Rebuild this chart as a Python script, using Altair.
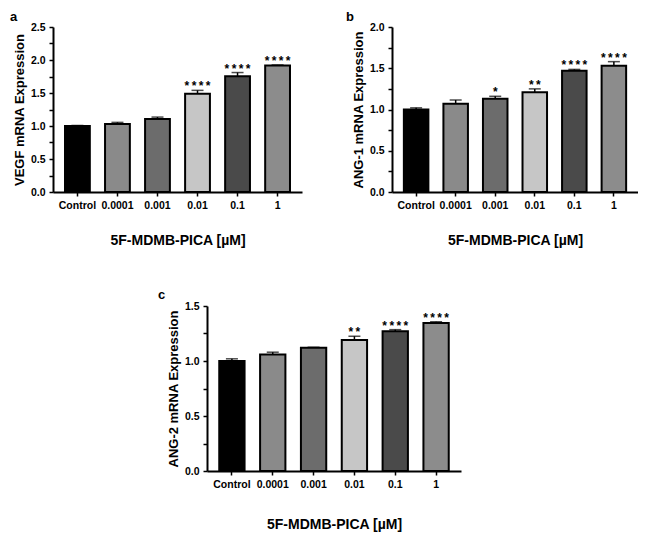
# %%
import pandas as pd
import altair as alt

# %%
doses = ["Control", "0.0001", "0.001", "0.01", "0.1", "1"]
bar_colors = ["#000000", "#8a8a8a", "#6c6c6c", "#c6c6c6", "#4a4a4a", "#8c8c8c"]

vegf_mean = [1.00, 1.03, 1.105, 1.49, 1.755, 1.915]
vegf_err = [0.008, 0.025, 0.03, 0.05, 0.055, 0.01]
vegf_stars = ["", "", "", "****", "****", "****"]

ang1_mean = [1.00, 1.07, 1.13, 1.21, 1.47, 1.53]
ang1_err = [0.02, 0.045, 0.03, 0.04, 0.016, 0.05]
ang1_stars = ["", "", "*", "**", "****", "****"]

ang2_mean = [1.00, 1.06, 1.12, 1.19, 1.27, 1.345]
ang2_err = [0.02, 0.02, 0.005, 0.035, 0.015, 0.012]
ang2_stars = ["", "", "", "**", "****", "****"]

x_title = "5F-MDMB-PICA [µM]"
FONT = "Liberation Sans"


# %%
def panel(letter, lx, ly, y_title, mean, err, stars, ymax, w, xpad):
    df = pd.DataFrame({
        "dose": doses,
        "mean": mean,
        "top": [m + e for m, e in zip(mean, err)],
        # thin spaces to open the asterisks up a little, as in the figure
        "stars": ["\u2009".join(s) for s in stars],
    })
    ticks = [i * 0.25 for i in range(int(ymax / 0.25) + 1)]

    x = alt.X("dose:N", sort=doses,
              scale=alt.Scale(paddingInner=0.38, paddingOuter=0.3),
              axis=alt.Axis(title=x_title, labelAngle=0, titlePadding=xpad,
                            titleFontSize=14))

    def y(field):
        return alt.Y(field, scale=alt.Scale(domain=[0, ymax], nice=False),
                     axis=alt.Axis(title=y_title, values=ticks, labelOverlap=False,
                                   labelExpr="datum.value % 0.5 == 0 ? format(datum.value, '.1f') : ''",
                                   titleFontSize=13, titlePadding=4))

    base = alt.Chart(df)
    bars = base.mark_bar(stroke="black", strokeWidth=2).encode(
        x=x, y=y("mean:Q"),
        color=alt.Color("dose:N", scale=alt.Scale(domain=doses, range=bar_colors), legend=None))
    whisk = base.mark_rule(color="black", strokeWidth=1.5).encode(x=x, y=y("mean:Q"), y2="top:Q")
    cap = base.mark_tick(color="black", thickness=1.5, size=12).encode(x=x, y=y("top:Q"))
    sig = base.mark_text(font=FONT, fontSize=12, fontWeight="bold", baseline="alphabetic").encode(
        x=x, y=y("top:Q"), text="stars:N")
    tag = alt.Chart(pd.DataFrame({"t": [letter]})).mark_text(
        font=FONT, fontSize=13, fontWeight="bold", align="left", baseline="top").encode(
        x=alt.value(lx), y=alt.value(ly), text="t:N")

    return alt.layer(bars, whisk, cap, sig, tag).properties(width=w, height=165)


a = panel("a", -43, -16, "VEGF mRNA Expression", vegf_mean, vegf_err, vegf_stars, 2.5, 249, 23)
b = panel("b", -46, -16, "ANG-1 mRNA Expression", ang1_mean, ang1_err, ang1_stars, 2.0, 246, 23)
c = panel("c", -49, -17, "ANG-2 mRNA Expression", ang2_mean, ang2_err, ang2_stars, 1.5, 254, 28)

spacer = alt.Chart(pd.DataFrame({"v": [0]})).mark_point(opacity=0).encode(
    x=alt.X("v:Q", axis=None), y=alt.Y("v:Q", axis=None)).properties(width=105, height=10)

chart = alt.vconcat(
    alt.hconcat(a, b, spacing=44),
    alt.hconcat(spacer, c, spacing=0),
    spacing=41,
).properties(padding={"top": 3, "left": 2, "right": 0, "bottom": 0}).configure_view(
    strokeWidth=0
).configure_axis(
    grid=False, domainColor="black", domainWidth=2,
    tickColor="black", tickWidth=1.5, tickSize=4,
    labelFont=FONT, labelFontSize=10.5, labelFontWeight="bold", labelColor="black", labelPadding=4,
    titleFont=FONT, titleFontWeight="bold", titleColor="black",
)

chart.save("out.html", embed_options={"renderer": "svg", "actions": False})
